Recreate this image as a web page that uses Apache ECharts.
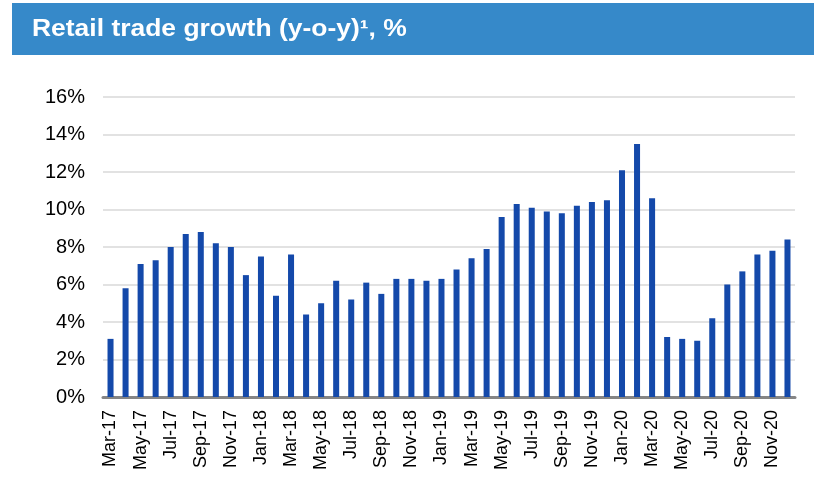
<!DOCTYPE html>
<html>
<head>
<meta charset="utf-8">
<script src="https://cdn.jsdelivr.net/npm/echarts@6/dist/echarts.min.js"></script>
<style>
  html, body { margin: 0; padding: 0; background: #fff; }
  #main { width: 814px; height: 482px; }
</style>
</head>
<body>
<div id="main"></div>
<script>
// months Mar-17 .. Dec-20
var months = ['Mar-17','Apr-17','May-17','Jun-17','Jul-17','Aug-17','Sep-17','Oct-17','Nov-17','Dec-17',
  'Jan-18','Feb-18','Mar-18','Apr-18','May-18','Jun-18','Jul-18','Aug-18','Sep-18','Oct-18','Nov-18','Dec-18',
  'Jan-19','Feb-19','Mar-19','Apr-19','May-19','Jun-19','Jul-19','Aug-19','Sep-19','Oct-19','Nov-19','Dec-19',
  'Jan-20','Feb-20','Mar-20','Apr-20','May-20','Jun-20','Jul-20','Aug-20','Sep-20','Oct-20','Nov-20','Dec-20'];
// retail trade growth, %
var growth = [3.1, 5.8, 7.1, 7.3, 8.0, 8.7, 8.8, 8.2, 8.0, 6.5,
  7.5, 5.4, 7.6, 4.4, 5.0, 6.2, 5.2, 6.1, 5.5, 6.3, 6.3, 6.2,
  6.3, 6.8, 7.4, 7.9, 9.6, 10.3, 10.1, 9.9, 9.8, 10.2, 10.4, 10.5,
  12.1, 13.5, 10.6, 3.2, 3.1, 3.0, 4.2, 6.0, 6.7, 7.6, 7.8, 8.4];
var yTicks = [0, 2, 4, 6, 8, 10, 12, 14, 16];

var myChart = echarts.init(document.getElementById('main'));
myChart.setOption({
    animation: false,
    graphic: [
        {
            type: 'rect',
            shape: { x: 12, y: 3, width: 802, height: 52 },
            style: { fill: '#3689c9' },
            silent: true
        },
        {
            type: 'text',
            x: 32, y: 30,
            scaleX: 1.15,
            style: {
                text: 'Retail trade growth (y-o-y)\u00b9, %',
                fill: '#fff',
                font: 'bold 23px Arial, "Liberation Sans", sans-serif',
                textVerticalAlign: 'middle'
            }
        }
    ],
    grid: { left: 103, right: 19, top: 97, bottom: 85 },
    xAxis: {
        type: 'category',
        data: months,
        axisLine: { lineStyle: { color: '#858585', width: 3 } },
        axisTick: { show: false },
        axisLabel: {
            interval: 1,
            rotate: 90,
            margin: 13,
            color: '#000',
            fontSize: 18,
            fontFamily: 'Arial, "Liberation Sans", sans-serif'
        }
    },
    yAxis: {
        type: 'value',
        min: yTicks[0],
        max: yTicks[yTicks.length - 1],
        interval: 2,
        axisLine: { show: false },
        axisTick: { show: false },
        splitLine: { lineStyle: { color: '#d9d9d9', width: 1.5 } },
        axisLabel: {
            formatter: '{value}%',
            color: '#000',
            fontSize: 20,
            margin: 18,
            fontFamily: 'Arial, "Liberation Sans", sans-serif'
        }
    },
    series: [{
        type: 'bar',
        data: growth,
        barWidth: '40%',
        itemStyle: { color: '#1449aa' }
    }]
});
</script>
</body>
</html>
